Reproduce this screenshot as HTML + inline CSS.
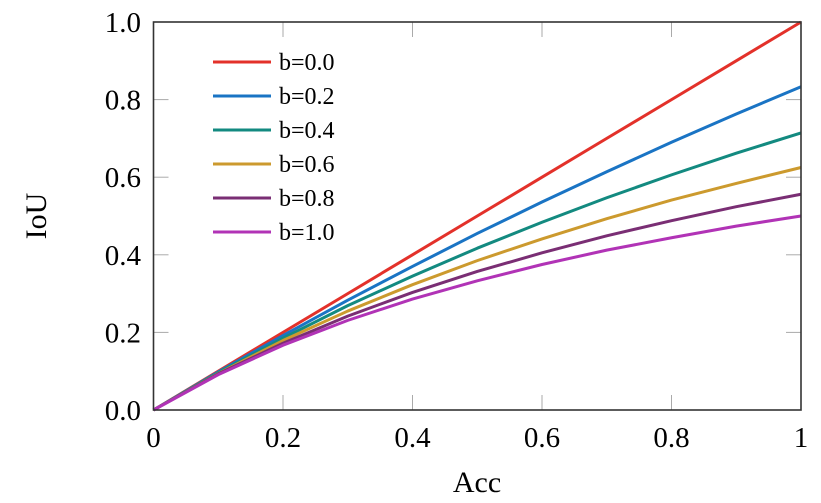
<!DOCTYPE html>
<html><head><meta charset="utf-8"><style>
html,body{margin:0;padding:0;background:#fff;}
svg{display:block;font-family:"Liberation Serif",serif;}
</style></head><body>
<svg id="chart" width="821" height="503">
<g id="grid"></g>
<g id="lines"></g>
<rect x="153.5" y="22" width="647.5" height="388" fill="none" stroke="#333" stroke-width="1.6"/>
<g id="ticklabels"></g>
<g id="legend"></g>
<text x="477" y="492" font-size="30" text-anchor="middle">Acc</text>
<text x="0" y="0" font-size="30" text-anchor="middle" transform="translate(46,216) rotate(-90)">IoU</text>
</svg>
<script>
const xs = [0,0.1,0.2,0.3,0.4,0.5,0.6,0.7,0.8,0.9,1.0];
const seriesNames = ["b=0.0","b=0.2","b=0.4","b=0.6","b=0.8","b=1.0"];
const seriesColors = ["#e3312a","#1a74c4","#138a80","#cc9a2e","#7a2e74","#b133b6"];
const s0 = [0,0.1,0.2,0.3,0.4,0.5,0.6,0.7,0.8,0.9,1.0];
const s1 = [0,0.098,0.192,0.283,0.370,0.455,0.536,0.614,0.690,0.763,0.833];
const s2 = [0,0.096,0.185,0.269,0.345,0.417,0.484,0.547,0.606,0.662,0.714];
const s3 = [0,0.094,0.179,0.255,0.323,0.385,0.441,0.493,0.541,0.584,0.625];
const s4 = [0,0.093,0.172,0.242,0.303,0.357,0.405,0.449,0.488,0.524,0.556];
const s5 = [0,0.091,0.167,0.231,0.286,0.333,0.375,0.412,0.444,0.474,0.5];
const xTicks = [0,0.2,0.4,0.6,0.8,1];
const xTickLabels = ["0","0.2","0.4","0.6","0.8","1"];
const yTicks = [0,0.2,0.4,0.6,0.8,1];
const yTickLabels = ["0.0","0.2","0.4","0.6","0.8","1.0"];
const series = [s0,s1,s2,s3,s4,s5];
const NS="http://www.w3.org/2000/svg";
const X0=153.5,X1=801,Y0=410,Y1=22;
function sx(v){return X0+v*(X1-X0);}
function sy(v){return Y0-v*(Y0-Y1);}
const grid=document.getElementById('grid'),lines=document.getElementById('lines'),tl=document.getElementById('ticklabels'),lg=document.getElementById('legend');
xTicks.forEach((t,i)=>{
  [[Y0,Y0-15],[Y1,Y1+15]].forEach(p=>{
    const l=document.createElementNS(NS,'line');
    l.setAttribute('x1',sx(t));l.setAttribute('x2',sx(t));l.setAttribute('y1',p[0]);l.setAttribute('y2',p[1]);
    l.setAttribute('stroke','#aaa');l.setAttribute('stroke-width','1');
    
    
    grid.appendChild(l);
  });
  const tx=document.createElementNS(NS,'text');
  tx.setAttribute('x',sx(t));tx.setAttribute('y',447);tx.setAttribute('font-size','29');tx.setAttribute('text-anchor','middle');
  tx.textContent=xTickLabels[i];
  
  
  tl.appendChild(tx);
});
yTicks.forEach((t,i)=>{
  [[X0,X0+15],[X1,X1-15]].forEach(p=>{
    const l=document.createElementNS(NS,'line');
    l.setAttribute('y1',sy(t));l.setAttribute('y2',sy(t));l.setAttribute('x1',p[0]);l.setAttribute('x2',p[1]);
    l.setAttribute('stroke','#aaa');l.setAttribute('stroke-width','1');
    
    
    grid.appendChild(l);
  });
  const tx=document.createElementNS(NS,'text');
  tx.setAttribute('x',141);tx.setAttribute('y',sy(t)+10);tx.setAttribute('font-size','29');tx.setAttribute('text-anchor','end');
  tx.textContent=yTickLabels[i];
  
  
  tl.appendChild(tx);
});
series.forEach((s,k)=>{
  const p=document.createElementNS(NS,'polyline');
  p.setAttribute('points',s.map((v,i)=>sx(xs[i])+','+sy(v)).join(' '));
  p.setAttribute('fill','none');p.setAttribute('stroke',seriesColors[k]);p.setAttribute('stroke-width','3');
  p.setAttribute('stroke-linejoin','round');
  
  
  lines.appendChild(p);
  const y=62+k*34;
  const l=document.createElementNS(NS,'line');
  l.setAttribute('x1',213);l.setAttribute('x2',271);l.setAttribute('y1',y);l.setAttribute('y2',y);
  l.setAttribute('stroke',seriesColors[k]);l.setAttribute('stroke-width','3');
  
  
  lg.appendChild(l);
  const t=document.createElementNS(NS,'text');
  t.setAttribute('x',279);t.setAttribute('y',y+8);t.setAttribute('font-size','24');
  t.textContent=seriesNames[k];
  
  
  lg.appendChild(t);
});
</script>
</body></html>
